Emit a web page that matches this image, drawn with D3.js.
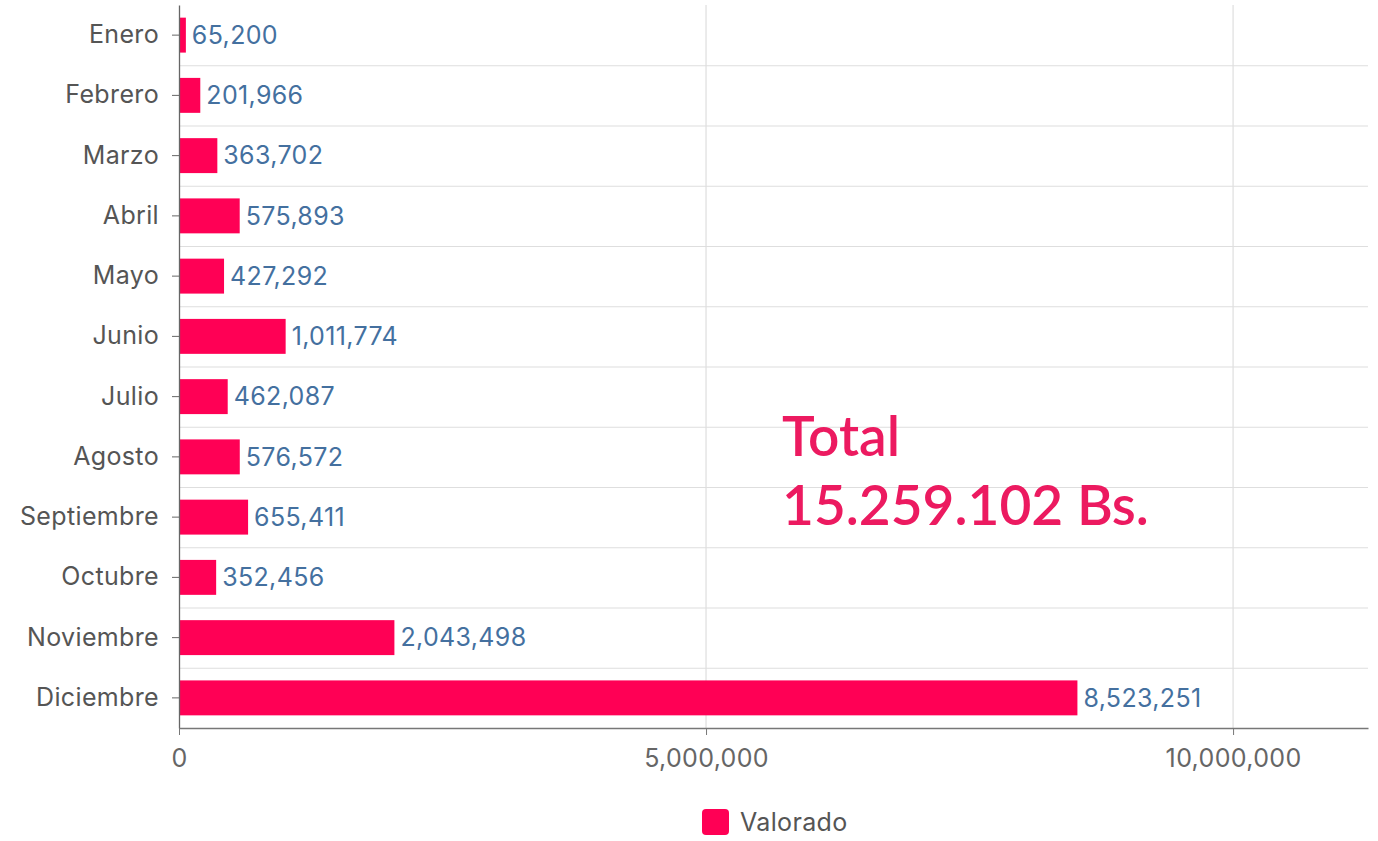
<!DOCTYPE html>
<html>
<head>
<meta charset="utf-8">
<script src="https://cdn.jsdelivr.net/npm/d3@7"></script>
<style>
  html, body { margin: 0; padding: 0; background: #fff; }
  svg { display: block; }
</style>
</head>
<body>
<svg id="chart" width="1378" height="841"></svg>
<script>
const categories = ["Enero","Febrero","Marzo","Abril","Mayo","Junio","Julio","Agosto","Septiembre","Octubre","Noviembre","Diciembre"];
const values = [65200, 201966, 363702, 575893, 427292, 1011774, 462087, 576572, 655411, 352456, 2043498, 8523251];
const xTicks = [0, 5000000, 10000000];
const seriesName = "Valorado";
const totalLines = ["Total", "15.259.102 Bs."];

const FONT = "Inter, 'Noto Sans', sans-serif";
const FS = 25, LS = 0.35;
const svg = d3.select("#chart");
const pLeft = 179, pRight = 1368, pTop = 5, pBottom = 728;

const x = d3.scaleLinear().domain([0, 11280000]).range([pLeft, pRight]);
const y = d3.scaleBand().domain(categories).range([pTop, pBottom]).paddingInner(0.42).paddingOuter(0.21);
const yb = d3.scaleBand().domain(categories).range([pTop, pBottom]);
const fmt = d3.format(",");

// horizontal gridlines at category boundaries
svg.append("g").selectAll("line").data(categories.slice(1)).join("line")
  .attr("x1", pLeft).attr("x2", pRight)
  .attr("y1", d => yb(d) + 0.5).attr("y2", d => yb(d) + 0.5)
  .attr("stroke", "#dedede").attr("stroke-width", 1.2);

// vertical gridlines
svg.append("g").selectAll("line").data(xTicks.slice(1)).join("line")
  .attr("x1", d => x(d)).attr("x2", d => x(d))
  .attr("y1", pTop).attr("y2", pBottom)
  .attr("stroke", "#dedede").attr("stroke-width", 1.2);

// bars
svg.append("g").selectAll("rect").data(values).join("rect")
  .attr("x", x(0))
  .attr("y", (d, i) => y(categories[i]))
  .attr("width", d => x(d) - x(0))
  .attr("height", y.bandwidth())
  .attr("fill", "#ff0055");

// value labels
svg.append("g").selectAll("text").data(values).join("text")
  .attr("x", d => x(d) + 6)
  .attr("y", (d, i) => y(categories[i]) + y.bandwidth() / 2)
  .attr("dy", "0.35em")
  .attr("font-family", FONT).attr("font-size", FS).attr("letter-spacing", LS)
  .attr("fill", "#44709f")
  .text(d => fmt(d));

// y axis
const yAxis = svg.append("g").attr("transform", `translate(${pLeft},0)`)
  .call(d3.axisLeft(yb).tickSize(7).tickPadding(13).tickSizeOuter(0));
yAxis.select(".domain").attr("stroke", "#666").attr("stroke-width", 1.3);
yAxis.selectAll(".tick line").attr("stroke", "#666");
yAxis.selectAll(".tick text").attr("font-family", FONT).attr("font-size", FS).attr("letter-spacing", LS).attr("fill", "#555");

// x axis
const xAxis = svg.append("g").attr("transform", `translate(0,${pBottom})`)
  .call(d3.axisBottom(x).tickValues(xTicks).tickFormat(fmt).tickSize(7).tickPadding(14).tickSizeOuter(0));
xAxis.select(".domain").attr("stroke", "#777").attr("stroke-width", 1.3);
xAxis.selectAll(".tick line").attr("stroke", "#777");
xAxis.selectAll(".tick text").attr("font-family", FONT).attr("font-size", FS).attr("letter-spacing", LS).attr("fill", "#666");

// total annotation
svg.append("g").selectAll("text").data(totalLines).join("text")
  .attr("x", 782)
  .attr("y", (d, i) => 456 + i * 69)
  .attr("font-family", "Lato, sans-serif").attr("font-size", 55).attr("font-weight", 600)
  .attr("fill", "#ec1a60")
  .text(d => d);

// legend
const lg = svg.append("g");
lg.append("rect").attr("x", 702).attr("y", 809).attr("width", 27).attr("height", 26).attr("rx", 4)
  .attr("fill", "#ff0055");
lg.append("text").attr("x", 740).attr("y", 831)
  .attr("font-family", FONT).attr("font-size", FS).attr("letter-spacing", LS).attr("fill", "#555")
  .text(seriesName);
</script>
</body>
</html>
